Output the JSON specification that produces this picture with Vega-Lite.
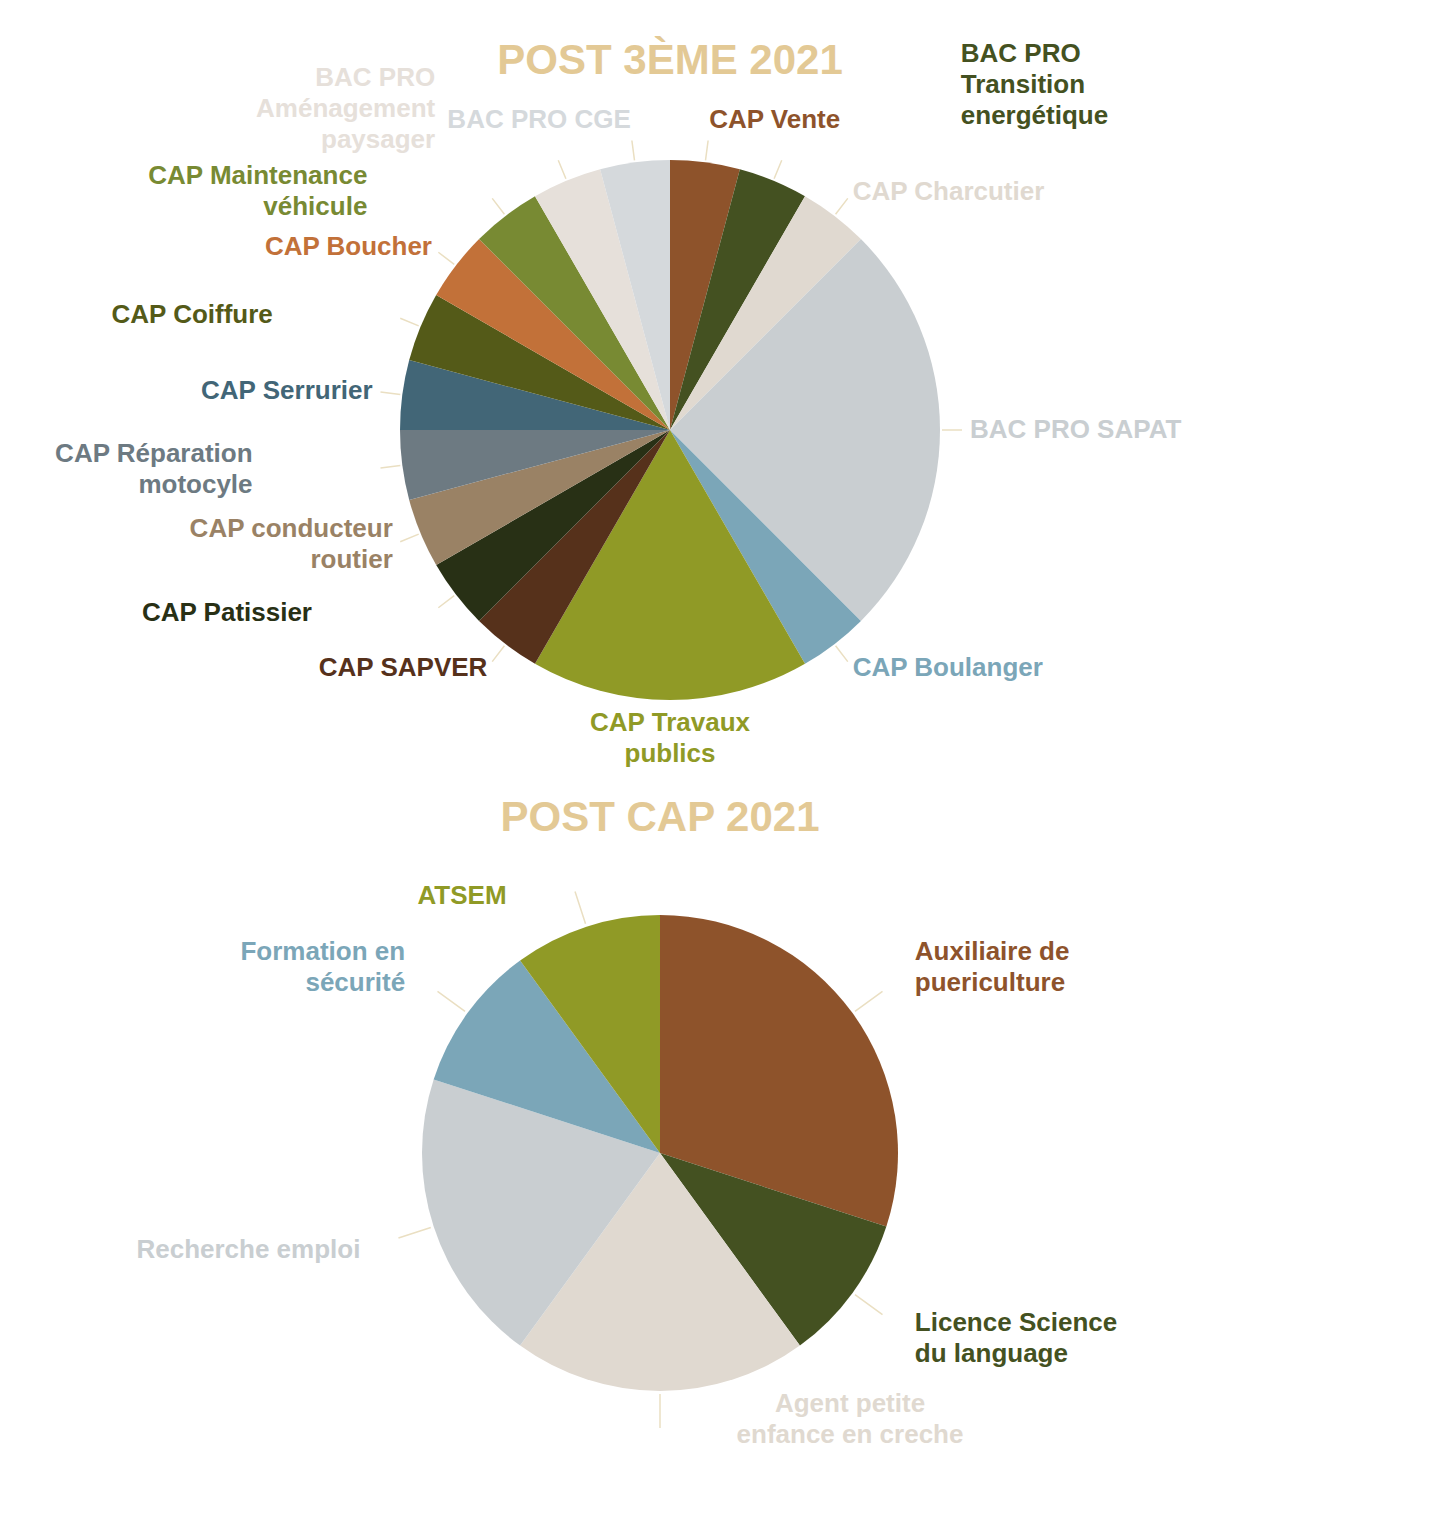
{
  "$schema": "https://vega.github.io/schema/vega-lite/v6.json",
  "padding": {"left": 0, "top": 39, "right": 0, "bottom": 0},
  "background": "white",
  "bounds": "flush",
  "spacing": 74,
  "config": {"view": {"stroke": null}, "font": "Liberation Sans"},
  "datasets": {
    "post3": [
      {"formation": "CAP Vente", "effectif": 1},
      {"formation": "BAC PRO\nTransition\nenergétique", "effectif": 1},
      {"formation": "CAP Charcutier", "effectif": 1},
      {"formation": "BAC PRO SAPAT", "effectif": 6},
      {"formation": "CAP Boulanger", "effectif": 1},
      {"formation": "CAP Travaux\npublics", "effectif": 4},
      {"formation": "CAP SAPVER", "effectif": 1},
      {"formation": "CAP Patissier", "effectif": 1},
      {"formation": "CAP conducteur\nroutier", "effectif": 1},
      {"formation": "CAP Réparation\nmotocyle", "effectif": 1},
      {"formation": "CAP Serrurier", "effectif": 1},
      {"formation": "CAP Coiffure", "effectif": 1},
      {"formation": "CAP Boucher", "effectif": 1},
      {"formation": "CAP Maintenance\nvéhicule", "effectif": 1},
      {"formation": "BAC PRO\nAménagement\npaysager", "effectif": 1},
      {"formation": "BAC PRO CGE", "effectif": 1}
    ],
    "postcap": [
      {"formation": "Auxiliaire de\npuericulture", "effectif": 3},
      {"formation": "Licence Science\ndu language", "effectif": 1},
      {"formation": "Agent petite\nenfance en creche", "effectif": 2},
      {"formation": "Recherche emploi", "effectif": 2},
      {"formation": "Formation en\nsécurité", "effectif": 1},
      {"formation": "ATSEM", "effectif": 1}
    ]
  },
  "vconcat": [
    {
      "width": 1340,
      "height": 686,
      "title": {"text": "POST 3ÈME 2021", "fontSize": 42, "fontWeight": "bold", "color": "#E3C995", "font": "Liberation Sans", "anchor": "middle", "frame": "group", "offset": -42},
      "data": {"name": "post3"},
      "transform": [
        {"window": [{"op": "row_number", "as": "rang"}]},
        {"joinaggregate": [{"op": "sum", "field": "effectif", "as": "total"}]}
      ],
      "encoding": {
        "theta": {"field": "effectif", "type": "quantitative", "stack": true},
        "order": {"field": "rang", "type": "quantitative"},
        "color": {
          "field": "formation", "type": "nominal", "legend": null,
          "scale": {
            "domain": ["CAP Vente", "BAC PRO\nTransition\nenergétique", "CAP Charcutier", "BAC PRO SAPAT", "CAP Boulanger", "CAP Travaux\npublics", "CAP SAPVER", "CAP Patissier", "CAP conducteur\nroutier", "CAP Réparation\nmotocyle", "CAP Serrurier", "CAP Coiffure", "CAP Boucher", "CAP Maintenance\nvéhicule", "BAC PRO\nAménagement\npaysager", "BAC PRO CGE"],
            "range": ["#8E532B", "#445121", "#E0D9D0", "#C9CED1", "#7BA6B8", "#909A26", "#56311B", "#283015", "#9A8265", "#6D7A82", "#426677", "#545A18", "#C27139", "#788A33", "#E6E0DA", "#D5D9DC"]
          }
        }
      },
      "layer": [
        {"mark": {"type": "arc", "radius": 270}},
        {
          "mark": {"type": "arc", "filled": false, "radius": 292, "radius2": 272, "padAngle": 3.2, "strokeWidth": 1.5},
          "encoding": {
            "color": {"value": "#EADFC2"},
            "strokeOpacity": {"condition": {"test": "cos(PI*(datum.effectif_start+datum.effectif_end)/datum.total) < -0.85", "value": 0}, "value": 1}
          }
        },
        {
          "mark": {
            "type": "text", "radius": 300, "fontSize": 26, "fontWeight": "bold", "font": "Liberation Sans", "lineBreak": "\n", "lineHeight": 31,
            "align": {"expr": "sin(PI*(datum.effectif_start+datum.effectif_end)/datum.total) > 0.05 ? 'left' : (sin(PI*(datum.effectif_start+datum.effectif_end)/datum.total) < -0.05 ? 'right' : 'center')"},
            "baseline": {"expr": "cos(PI*(datum.effectif_start+datum.effectif_end)/datum.total) > 0.85 ? 'bottom' : 'middle'"},
            "dy": {"expr": "-(length(split(datum.formation, '\\n')) - 1) * (cos(PI*(datum.effectif_start+datum.effectif_end)/datum.total) > 0.85 ? 31 : 15.5)"}
          },
          "encoding": {"text": {"condition": {"test": "indexof([2,8,10,12,14,15], datum.rang) < 0 && cos(PI*(datum.effectif_start+datum.effectif_end)/datum.total) >= -0.85", "field": "formation", "type": "nominal"}, "value": ""}}
        },
        {
          "mark": {
            "type": "text", "radius": 300, "dx": -120, "fontSize": 26, "fontWeight": "bold", "font": "Liberation Sans", "lineBreak": "\n", "lineHeight": 31, "align": "right",
            "baseline": {"expr": "cos(PI*(datum.effectif_start+datum.effectif_end)/datum.total) > 0.85 ? 'bottom' : 'middle'"},
            "dy": {"expr": "-(length(split(datum.formation, '\\n')) - 1) * (cos(PI*(datum.effectif_start+datum.effectif_end)/datum.total) > 0.85 ? 31 : 15.5)"}
          },
          "encoding": {"text": {"condition": {"test": "indexof([8,10,12,14,15], datum.rang) >= 0", "field": "formation", "type": "nominal"}, "value": ""}}
        },
        {
          "mark": {
            "type": "text", "radius": 300, "dx": 176, "fontSize": 26, "fontWeight": "bold", "font": "Liberation Sans", "lineBreak": "\n", "lineHeight": 31, "align": "left",
            "baseline": {"expr": "cos(PI*(datum.effectif_start+datum.effectif_end)/datum.total) > 0.85 ? 'bottom' : 'middle'"},
            "dy": {"expr": "-24 - (length(split(datum.formation, '\\n')) - 1) * (cos(PI*(datum.effectif_start+datum.effectif_end)/datum.total) > 0.85 ? 31 : 15.5)"}
          },
          "encoding": {"text": {"condition": {"test": "datum.rang == 2", "field": "formation", "type": "nominal"}, "value": ""}}
        },
        {
          "mark": {"type": "text", "radius": 280, "fontSize": 26, "fontWeight": "bold", "font": "Liberation Sans", "lineBreak": "\n", "lineHeight": 31, "align": "center", "baseline": "top"},
          "encoding": {"text": {"condition": {"test": "cos(PI*(datum.effectif_start+datum.effectif_end)/datum.total) < -0.85", "field": "formation", "type": "nominal"}, "value": ""}}
        }
      ]
    },
    {
      "width": 1320,
      "height": 612,
      "title": {"text": "POST CAP 2021", "fontSize": 42, "fontWeight": "bold", "color": "#E3C995", "font": "Liberation Sans", "anchor": "middle", "frame": "group", "offset": 0},
      "data": {"name": "postcap"},
      "transform": [
        {"window": [{"op": "row_number", "as": "rang"}]},
        {"joinaggregate": [{"op": "sum", "field": "effectif", "as": "total"}]}
      ],
      "encoding": {
        "theta": {"field": "effectif", "type": "quantitative", "stack": true},
        "order": {"field": "rang", "type": "quantitative"},
        "color": {
          "field": "formation", "type": "nominal", "legend": null,
          "scale": {
            "domain": ["Auxiliaire de\npuericulture", "Licence Science\ndu language", "Agent petite\nenfance en creche", "Recherche emploi", "Formation en\nsécurité", "ATSEM"],
            "range": ["#8E532B", "#445121", "#E0D9D0", "#C9CED1", "#7BA6B8", "#909A26"]
          }
        }
      },
      "layer": [
        {"mark": {"type": "arc", "radius": 238}},
        {"mark": {"type": "arc", "filled": false, "radius": 275, "radius2": 241, "padAngle": 3.2, "strokeWidth": 1.5}, "encoding": {"color": {"value": "#EADFC2"}}},
        {
          "mark": {
            "type": "text", "radius": 315, "fontSize": 26, "fontWeight": "bold", "font": "Liberation Sans", "lineBreak": "\n", "lineHeight": 31, "baseline": "middle",
            "align": {"expr": "sin(PI*(datum.effectif_start+datum.effectif_end)/datum.total) > 0.05 ? 'left' : (sin(PI*(datum.effectif_start+datum.effectif_end)/datum.total) < -0.05 ? 'right' : 'center')"},
            "dy": {"expr": "-(length(split(datum.formation, '\\n')) - 1) * 15.5"}
          },
          "encoding": {"text": {"condition": {"test": "cos(PI*(datum.effectif_start+datum.effectif_end)/datum.total) >= -0.85 && cos(PI*(datum.effectif_start+datum.effectif_end)/datum.total) <= 0.85", "field": "formation", "type": "nominal"}, "value": ""}}
        },
        {
          "mark": {"type": "text", "radius": 270, "dx": -70, "fontSize": 26, "fontWeight": "bold", "font": "Liberation Sans", "lineBreak": "\n", "lineHeight": 31, "align": "right", "baseline": "middle"},
          "encoding": {"text": {"condition": {"test": "cos(PI*(datum.effectif_start+datum.effectif_end)/datum.total) > 0.85", "field": "formation", "type": "nominal"}, "value": ""}}
        },
        {
          "mark": {"type": "text", "radius": 238, "dx": 190, "fontSize": 26, "fontWeight": "bold", "font": "Liberation Sans", "lineBreak": "\n", "lineHeight": 31, "align": "center", "baseline": "top"},
          "encoding": {"text": {"condition": {"test": "cos(PI*(datum.effectif_start+datum.effectif_end)/datum.total) < -0.85", "field": "formation", "type": "nominal"}, "value": ""}}
        }
      ]
    }
  ],
  "resolve": {"scale": {"color": "independent", "theta": "independent"}}
}
